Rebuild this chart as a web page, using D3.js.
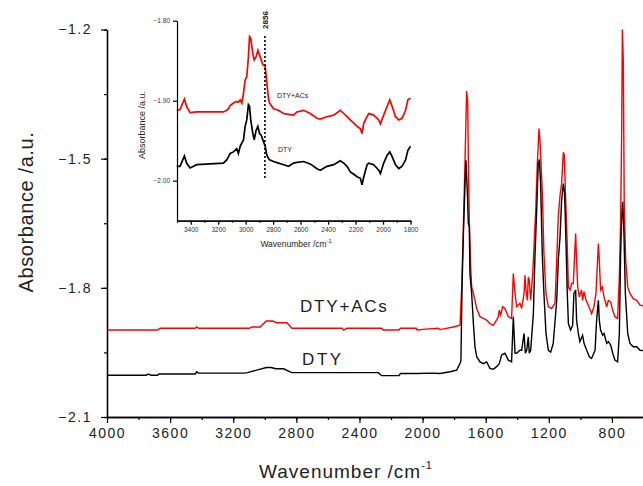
<!DOCTYPE html>
<html><head><meta charset="utf-8">
<script src="https://cdn.jsdelivr.net/npm/d3@7"></script>
<style>
body{margin:0;background:#fff;}
svg{display:block;font-family:"Liberation Sans",Arial,sans-serif;}
</style></head><body>
<svg id="c" width="643" height="486"></svg>
<script>
// ---------- data ----------
const seriesNames = ["DTY+ACs", "DTY"];
const mainXTicks = [4000, 3600, 3200, 2800, 2400, 2000, 1600, 1200, 800];
const mainYTicks = [-1.2, -1.5, -1.8, -2.1];
const insetXTicks = [3400, 3200, 3000, 2800, 2600, 2400, 2200, 2000, 1800];
const insetYTicks = [-1.80, -1.90, -2.00];
const insetMarker = 2860;
const insetMarkerLabel = "2856";

// main spectrum: DTY+ACs (wavenumber, absorbance)
const mainRedWn = [4000,3680,3664,3440,3432,3420,3100,3081,3030,2990,2950,2925,2860,2828,2510,2500,2480,2260,2250,2150,2140,2040,2035,1980,1900,1890,1805,1763,1752,1742,1731,1721,1714,1710,1704,1695,1689,1678,1657,1636,1615,1594,1573,1552,1531,1520,1514,1505,1493,1478,1457,1436,1425,1414,1404,1383,1372,1357,1351,1345,1336,1330,1324,1315,1302,1294,1283,1273,1262,1256,1250,1241,1231,1218,1203,1182,1161,1150,1140,1129,1119,1108,1102,1093,1083,1076,1066,1055,1045,1038,1030,1024,1017,1007,992,986,977,964,950,929,914,901,886,880,872,861,850,833,823,808,795,781,764,753,745,738,734,728,722,713,700,686,665,643,622,600];
const mainRedAbs = [-1.898,-1.898,-1.894,-1.894,-1.891,-1.894,-1.894,-1.891,-1.891,-1.877,-1.877,-1.881,-1.881,-1.894,-1.894,-1.898,-1.894,-1.894,-1.898,-1.898,-1.894,-1.894,-1.898,-1.896,-1.894,-1.897,-1.891,-1.887,-1.798,-1.666,-1.504,-1.343,-1.369,-1.504,-1.643,-1.751,-1.798,-1.813,-1.848,-1.867,-1.871,-1.875,-1.883,-1.887,-1.875,-1.867,-1.852,-1.863,-1.844,-1.848,-1.867,-1.871,-1.767,-1.813,-1.844,-1.836,-1.848,-1.813,-1.771,-1.805,-1.829,-1.775,-1.782,-1.829,-1.767,-1.705,-1.620,-1.512,-1.430,-1.458,-1.504,-1.581,-1.720,-1.813,-1.844,-1.848,-1.836,-1.736,-1.635,-1.585,-1.558,-1.485,-1.492,-1.597,-1.705,-1.798,-1.805,-1.790,-1.790,-1.736,-1.674,-1.736,-1.798,-1.821,-1.805,-1.829,-1.809,-1.829,-1.840,-1.860,-1.844,-1.813,-1.697,-1.736,-1.805,-1.798,-1.821,-1.844,-1.829,-1.833,-1.852,-1.867,-1.871,-1.775,-1.643,-1.427,-1.200,-1.272,-1.604,-1.736,-1.798,-1.813,-1.825,-1.829,-1.840,-1.842];

// main spectrum: DTY
const mainBlackWn = [4000,3750,3740,3720,3680,3670,3440,3432,3420,3130,3110,2990,2960,2930,2880,2830,2280,2260,2150,2140,2035,1940,1890,1826,1784,1763,1757,1750,1742,1731,1725,1716,1710,1704,1700,1689,1678,1668,1657,1636,1615,1594,1573,1552,1531,1514,1499,1478,1457,1436,1425,1414,1404,1383,1372,1357,1349,1340,1330,1324,1315,1298,1288,1277,1267,1260,1252,1241,1231,1218,1203,1188,1172,1150,1140,1129,1119,1108,1100,1091,1083,1076,1062,1049,1041,1030,1024,1013,1003,986,977,960,943,929,907,897,886,880,872,859,850,833,823,808,795,781,764,753,745,738,732,724,715,700,686,665,643,622,600];
const mainBlackAbs = [-2.003,-2.003,-2.000,-2.003,-2.003,-2.000,-2.000,-1.995,-1.998,-1.998,-1.997,-1.985,-1.985,-1.988,-1.988,-1.997,-1.997,-2.004,-2.004,-1.999,-1.999,-1.998,-1.999,-1.995,-1.991,-1.976,-1.968,-1.798,-1.682,-1.558,-1.504,-1.581,-1.651,-1.659,-1.767,-1.813,-1.883,-1.937,-1.960,-1.972,-1.976,-1.972,-1.987,-1.989,-1.983,-1.976,-1.956,-1.952,-1.968,-1.972,-1.867,-1.952,-1.952,-1.945,-1.945,-1.906,-1.952,-1.945,-1.914,-1.952,-1.945,-1.860,-1.728,-1.620,-1.512,-1.502,-1.558,-1.728,-1.813,-1.906,-1.945,-1.949,-1.929,-1.829,-1.736,-1.682,-1.597,-1.558,-1.581,-1.697,-1.813,-1.883,-1.898,-1.887,-1.813,-1.805,-1.875,-1.906,-1.925,-1.910,-1.929,-1.945,-1.960,-1.964,-1.945,-1.875,-1.829,-1.875,-1.898,-1.910,-1.906,-1.929,-1.925,-1.933,-1.952,-1.968,-1.972,-1.906,-1.720,-1.635,-1.600,-1.674,-1.813,-1.906,-1.929,-1.937,-1.937,-1.945,-1.946];

// inset (C-H region)
const insetWn = [3502,3478,3446,3430,3405,3356,3259,3162,3138,3125,3113,3089,3065,3053,3040,3028,3016,3004,2992,2980,2972,2963,2948,2938,2924,2911,2899,2887,2875,2858,2846,2834,2826,2797,2761,2724,2688,2651,2627,2578,2530,2481,2457,2408,2359,2311,2286,2262,2238,2213,2189,2165,2153,2140,2116,2104,2068,2031,2019,1995,1970,1951,1934,1909,1885,1861,1836,1819,1800];
const insetRedAbs = [-1.912,-1.911,-1.898,-1.907,-1.915,-1.914,-1.914,-1.914,-1.912,-1.910,-1.906,-1.903,-1.901,-1.902,-1.899,-1.903,-1.891,-1.874,-1.870,-1.845,-1.820,-1.822,-1.841,-1.849,-1.845,-1.837,-1.843,-1.849,-1.855,-1.857,-1.878,-1.897,-1.903,-1.910,-1.912,-1.916,-1.917,-1.918,-1.914,-1.912,-1.916,-1.922,-1.923,-1.920,-1.918,-1.912,-1.916,-1.920,-1.924,-1.928,-1.932,-1.935,-1.941,-1.928,-1.920,-1.916,-1.918,-1.924,-1.929,-1.918,-1.907,-1.899,-1.907,-1.920,-1.924,-1.922,-1.912,-1.899,-1.897];
const insetBlackAbs = [-1.982,-1.982,-1.969,-1.978,-1.984,-1.980,-1.979,-1.978,-1.974,-1.970,-1.966,-1.964,-1.960,-1.966,-1.957,-1.953,-1.949,-1.932,-1.924,-1.905,-1.907,-1.924,-1.941,-1.949,-1.937,-1.932,-1.941,-1.943,-1.949,-1.957,-1.968,-1.972,-1.974,-1.976,-1.978,-1.980,-1.982,-1.978,-1.977,-1.976,-1.979,-1.985,-1.987,-1.982,-1.980,-1.975,-1.978,-1.982,-1.989,-1.992,-1.995,-1.997,-2.005,-1.995,-1.980,-1.978,-1.980,-1.987,-1.991,-1.978,-1.968,-1.964,-1.970,-1.980,-1.985,-1.982,-1.974,-1.962,-1.957];

const colors = ["#ff0000", "#000000"];

// ---------- drawing ----------
const svg = d3.select("#c");

// main chart
const x = d3.scaleLinear().domain([4000, 600]).range([107, 643.5]);
const y = d3.scaleLinear().domain([-2.1, -1.2]).range([417, 29.5]);

svg.append("clipPath").attr("id","mclip").append("rect")
  .attr("x",107).attr("y",0).attr("width",537).attr("height",418);

const line = d3.line().x(d=>x(d[0])).y(d=>y(d[1]));
const mainSeries = [d3.zip(mainRedWn, mainRedAbs), d3.zip(mainBlackWn, mainBlackAbs)];
svg.append("g").attr("clip-path","url(#mclip)").selectAll("path").data(mainSeries).join("path")
  .attr("d", line).attr("fill","none").attr("stroke",(d,i)=>colors[i])
  .attr("stroke-width",1.4).attr("stroke-linejoin","miter");

// axes
const xMinor = d3.range(4000, 599, -200);
const yMinor = d3.range(-1.2, -2.11, -0.15).map(v=>+v.toFixed(2));
const gx = svg.append("g").attr("transform","translate(0,417)");
gx.call(d3.axisBottom(x).tickValues(xMinor).tickSize(3).tickFormat("").tickSizeOuter(0));
gx.append("g").call(d3.axisBottom(x).tickValues(mainXTicks).tickSize(6).tickPadding(5).tickFormat(d3.format("d")).tickSizeOuter(0));
const gy = svg.append("g").attr("transform","translate(107,0)");
gy.call(d3.axisLeft(y).tickValues(yMinor).tickSize(3).tickFormat("").tickSizeOuter(0));
gy.append("g").call(d3.axisLeft(y).tickValues(mainYTicks).tickSize(6).tickPadding(9).tickFormat(d3.format(".1f")).tickSizeOuter(0));
svg.selectAll("g.tick text").attr("fill","#222").style("font-size","14px").style("letter-spacing","1.5px")
  .style("font-family","'Liberation Sans',Arial,sans-serif");
svg.selectAll(".domain").attr("stroke","#000").attr("stroke-width",1.3);
svg.selectAll(".tick line").attr("stroke","#000").attr("stroke-width",1.2);

// axis titles
svg.append("text").attr("transform","translate(33,212) rotate(-90)").attr("text-anchor","middle")
  .style("font-size","20px").style("letter-spacing","0.6px").attr("fill","#222").text("Absorbance /a.u.");
const xt = svg.append("text").attr("x",346).attr("y",478).attr("text-anchor","middle")
  .style("font-size","19px").style("letter-spacing","1px").attr("fill","#222");
xt.append("tspan").text("Wavenumber /cm");
xt.append("tspan").attr("dy",-9).style("font-size","11px").text("-1");

// series labels
svg.append("text").attr("x",300).attr("y",312).style("font-size","17px").style("letter-spacing","1.8px").attr("fill","#222").text(seriesNames[0]);
svg.append("text").attr("x",302).attr("y",365).style("font-size","17px").style("letter-spacing","2.6px").attr("fill","#222").text(seriesNames[1]);

// ---------- inset ----------
const ix = d3.scaleLinear().domain([3500, 1800]).range([177, 410.5]);
const iy = d3.scaleLinear().domain([-2.05, -1.80]).range([220.7, 20.7]);
const iline = d3.line().x(d=>ix(d[0])).y(d=>iy(d[1]));
const insetSeries = [d3.zip(insetWn, insetRedAbs), d3.zip(insetWn, insetBlackAbs)];
svg.append("g").selectAll("path").data(insetSeries).join("path")
  .attr("d", iline).attr("fill","none").attr("stroke",(d,i)=>colors[i]).attr("stroke-width",1.7);

// marker line
svg.append("line").attr("x1",ix(insetMarker)).attr("x2",ix(insetMarker))
  .attr("y1",iy(-1.819)).attr("y2",iy(-1.997)).attr("stroke","#000").attr("stroke-width",1.6).attr("stroke-dasharray","2,2");
svg.append("text").attr("transform",`translate(${ix(insetMarker)+3},20) rotate(-90)`).attr("text-anchor","middle")
  .style("font-size","8px").style("font-weight","bold").attr("fill","#222").text(insetMarkerLabel);

const igx = svg.append("g").attr("transform","translate(0,220.7)");
igx.call(d3.axisBottom(ix).tickValues(d3.range(3500,1799,-100)).tickSize(2).tickFormat("").tickSizeOuter(0));
igx.append("g").call(d3.axisBottom(ix).tickValues(insetXTicks).tickSize(4).tickPadding(3).tickFormat(d3.format("d")).tickSizeOuter(0));
const igy = svg.append("g").attr("transform","translate(177,0)");
igy.call(d3.axisLeft(iy).tickValues(insetYTicks).tickSize(4).tickPadding(3).tickFormat(d3.format(".2f")).tickSizeOuter(0));
igx.selectAll("text").style("font-size","6.5px").style("letter-spacing","0px").attr("fill","#333");
igy.selectAll("text").style("font-size","6.5px").style("letter-spacing","0px").attr("fill","#333");
igx.selectAll(".domain, .tick line").attr("stroke-width",1.2);
igy.selectAll(".domain, .tick line").attr("stroke-width",1.2);

svg.append("text").attr("transform","translate(145,125) rotate(-90)").attr("text-anchor","middle")
  .style("font-size","9px").attr("fill","#222").text("Absorbance /a.u.");
const ixt = svg.append("text").attr("x",296).attr("y",247).attr("text-anchor","middle")
  .style("font-size","8.5px").attr("fill","#222");
ixt.append("tspan").text("Wavenumber /cm");
ixt.append("tspan").attr("dy",-4).style("font-size","5.5px").text("-1");

svg.append("text").attr("x",277).attr("y",98).style("font-size","7px").attr("fill","#222").text(seriesNames[0]);
svg.append("text").attr("x",278).attr("y",152).style("font-size","7px").attr("fill","#222").text(seriesNames[1]);
</script>
</body></html>
